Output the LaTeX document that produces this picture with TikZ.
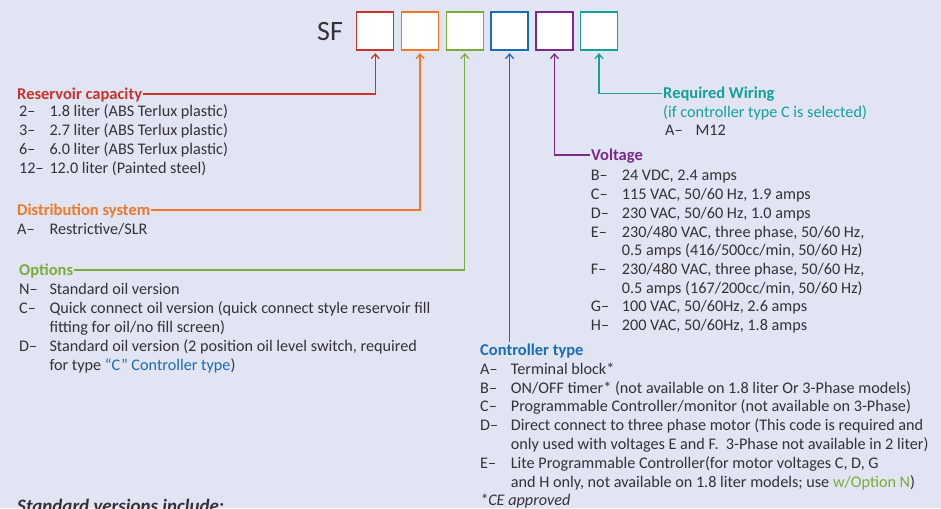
\documentclass[tikz,border=0pt]{standalone}
\usepackage{fontspec}
\setmainfont{Carlito}
\usetikzlibrary{arrows.meta}
\definecolor{bg}{RGB}{225,228,242}
\definecolor{cred}{RGB}{200,52,42}
\definecolor{corange}{RGB}{240,120,40}
\definecolor{cgreen}{RGB}{122,172,58}
\definecolor{cblue}{RGB}{26,108,184}
\definecolor{cpurple}{RGB}{122,40,140}
\definecolor{cteal}{RGB}{22,160,150}
\definecolor{ctext}{RGB}{50,50,55}
\tikzset{
  txt/.style={anchor=west, inner sep=0pt, text height=10.3pt, text depth=0pt, font=\fontsize{16.2pt}{19pt}\selectfont, text=ctext},
  hdr/.style={txt, font=\fontsize{16.5pt}{19pt}\selectfont\bfseries, inner xsep=1pt},
  codebox/.style={draw, line width=1.3pt, fill=white, minimum width=37pt, minimum height=38pt, inner sep=0pt},
  conn/.style={line width=1.2pt, -{Straight Barb[length=4.5pt,width=8pt,line width=1.3pt]}, shorten >=2.5pt},
}
\begin{document}
\begin{tikzpicture}[x=1pt,y=-1pt]
\fill[bg] (0,0) rectangle (941,508);
\useasboundingbox (0,0) rectangle (941,508);

\node[txt, font=\fontsize{28pt}{30pt}\selectfont, text height=18pt] (sf) at (317,32) {SF};
\node[codebox, draw=cred]    (b1) at (375.2,31) {};
\node[codebox, draw=corange] (b2) at (420.0,31) {};
\node[codebox, draw=cgreen]  (b3) at (464.8,31) {};
\node[codebox, draw=cblue]   (b4) at (509.6,31) {};
\node[codebox, draw=cpurple] (b5) at (554.4,31) {};
\node[codebox, draw=cteal]   (b6) at (599.0,31) {};

% Reservoir capacity
\node[hdr, text=cred] (h1) at (16,94) {Reservoir capacity};
\node[txt] (r1c) at (19,111.7) {2–};   \node[txt] (r1t) at (49.3,111.7) {1.8 liter (ABS Terlux plastic)};
\node[txt] (r2c) at (19,130.5) {3–};   \node[txt] (r2t) at (49.3,130.5) {2.7 liter (ABS Terlux plastic)};
\node[txt] (r3c) at (19,149.3) {6–};   \node[txt] (r3t) at (49.3,149.3) {6.0 liter (ABS Terlux plastic)};
\node[txt] (r4c) at (19,168.3) {12–};  \node[txt] (r4t) at (49.3,168.3) {12.0 liter (Painted steel)};

% Distribution system
\node[hdr, text=corange] (h2) at (16,210) {Distribution system};
\node[txt] (d1c) at (17,229) {A–};     \node[txt] (d1t) at (49.3,229) {Restrictive/SLR};

% Options
\node[hdr, text=cgreen] (h3) at (18,270) {Options};
\node[txt] (o1c) at (19,289) {N–};     \node[txt] (o1t) at (49.3,289) {Standard oil version};
\node[txt] (o2c) at (19,308) {C–};     \node[txt] (o2t) at (49.3,308) {Quick connect oil version (quick connect style reservoir fill};
\node[txt] (o2u) at (49.3,327) {fitting for oil/no fill screen)};
\node[txt] (o3c) at (19,346) {D–};     \node[txt] (o3t) at (49.3,346) {Standard oil version (2 position oil level switch, required};
\node[txt] (o3u) at (49.3,365) {for type \textcolor{cblue}{“C” Controller type})};

\node[txt, font=\fontsize{19pt}{22pt}\selectfont\bfseries\itshape, text height=12pt] (std) at (17,506) {Standard versions include:};

% Required Wiring
\node[hdr, text=cteal] (h6) at (662,93.3) {Required Wiring};
\node[txt, text=cteal] (w0) at (663,112.3) {(if controller type C is selected)};
\node[txt] (w1c) at (665,130.7) {A–};  \node[txt] (w1t) at (695.3,130.7) {M12};

% Voltage
\node[hdr, text=cpurple] (h5) at (590,155) {Voltage};
\node[txt] (v1c) at (590.7,175.7) {B–}; \node[txt] (v1t) at (621.7,175.7) {24 VDC, 2.4 amps};
\node[txt] (v2c) at (590.7,194.5) {C–}; \node[txt] (v2t) at (621.7,194.5) {115 VAC, 50/60 Hz, 1.9 amps};
\node[txt] (v3c) at (590.7,213.2) {D–}; \node[txt] (v3t) at (621.7,213.2) {230 VAC, 50/60 Hz, 1.0 amps};
\node[txt] (v4c) at (590.7,232)   {E–}; \node[txt] (v4t) at (621.7,232) {230/480 VAC, three phase, 50/60 Hz,};
\node[txt] (v4u) at (621.7,250.8) {0.5 amps (416/500cc/min, 50/60 Hz)};
\node[txt] (v5c) at (590.7,269.7) {F–}; \node[txt] (v5t) at (621.7,269.7) {230/480 VAC, three phase, 50/60 Hz,};
\node[txt] (v5u) at (621.7,288.5) {0.5 amps (167/200cc/min, 50/60 Hz)};
\node[txt] (v6c) at (590.7,306.7) {G–}; \node[txt] (v6t) at (621.7,306.7) {100 VAC, 50/60Hz, 2.6 amps};
\node[txt] (v7c) at (590.7,325.7) {H–}; \node[txt] (v7t) at (621.7,325.7) {200 VAC, 50/60Hz, 1.8 amps};

% Controller type
\node[hdr, text=cblue] (h4) at (479,350) {Controller type};
\node[txt] (c1c) at (480,369) {A–}; \node[txt] (c1t) at (510.7,369) {Terminal block*};
\node[txt] (c2c) at (480,388) {B–}; \node[txt] (c2t) at (510.7,388) {ON/OFF timer* (not available on 1.8 liter Or 3-Phase models)};
\node[txt] (c3c) at (480,406.5) {C–}; \node[txt] (c3t) at (510.7,406.5) {Programmable Controller/monitor (not available on 3-Phase)};
\node[txt] (c4c) at (480,425) {D–}; \node[txt] (c4t) at (510.7,425) {Direct connect to three phase motor (This code is required and};
\node[txt] (c4u) at (510.7,444) {only used with voltages E and F.\ \ 3-Phase not available in 2 liter)};
\node[txt] (c5c) at (480,463) {E–}; \node[txt] (c5t) at (510.7,463) {Lite Programmable Controller(for motor voltages C, D, G};
\node[txt] (c5u) at (510.7,482) {and H only, not available on 1.8 liter models; use \textcolor{cgreen}{w/Option N})};
\node[txt, font=\fontsize{16.2pt}{19pt}\selectfont\itshape] (ce) at (480,500) {*CE approved};

% connectors
\draw[conn, cred]    (h1.east) -| (b1.south);
\draw[conn, corange] (h2.east) -| (b2.south);
\draw[conn, cgreen]  (h3.east) -| (b3.south);
\draw[conn, cblue]   ([yshift=3pt]h4.north -| b4.south) coordinate (c4end) -- (b4.south);
\draw[conn, cpurple] (h5.west) -| (b5.south);
\draw[conn, cteal]   (h6.west) -| (b6.south);
\end{tikzpicture}
\end{document}
